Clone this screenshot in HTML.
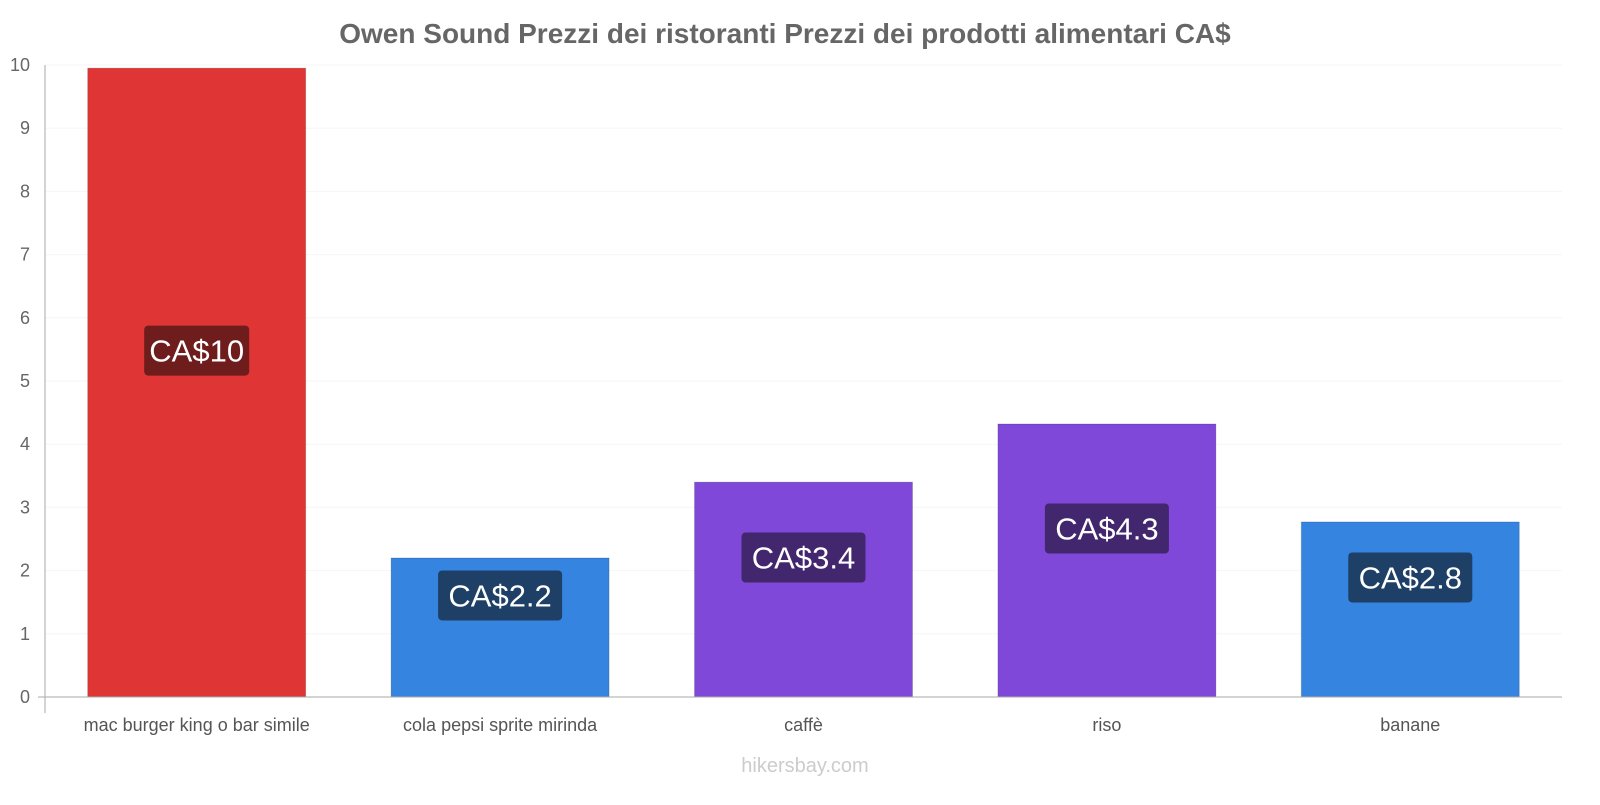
<!DOCTYPE html>
<html><head><meta charset="utf-8"><style>
body{margin:0;background:#fff;font-family:"Liberation Sans",sans-serif}
svg text{font-family:"Liberation Sans",sans-serif}
</style></head><body>
<svg id="chart" width="1600" height="800">
<text x="785" y="43" text-anchor="middle" font-size="28" font-weight="bold" fill="#666">Owen Sound Prezzi dei ristoranti Prezzi dei prodotti alimentari CA$</text>
<g id="grid"></g><g id="bars"></g>
<line x1="45" y1="65" x2="45" y2="713" stroke="#aaa"/>
<line x1="38" y1="697" x2="1562" y2="697" stroke="#aaa"/>
<text x="805" y="772" text-anchor="middle" font-size="20" fill="#ccc">hikersbay.com</text>
</svg>
<script>
const categories=["mac burger king o bar simile","cola pepsi sprite mirinda","caffè","riso","banane"];
const values=[9.95,2.2,3.4,4.32,2.77];
const labels=["CA$10","CA$2.2","CA$3.4","CA$4.3","CA$2.8"];
const colors=["#e03535","#3584e0","#8048d8","#8048d8","#3584e0"];
const labelBg=["#6e1c1c","#1e3f66","#42266e","#42266e","#1e3f66"];
const yTicks=[0,1,2,3,4,5,6,7,8,9,10];
const NS="http://www.w3.org/2000/svg";
const x0=45,x1=1562,yZero=697,yTop=65,yMax=10;
const y=v=>yZero-(yZero-yTop)*v/yMax;
const band=(x1-x0)/categories.length;
const bx=i=>x0+band*i+band/2;
function mk(t,a,p){const e=document.createElementNS(NS,t);for(const k in a)e.setAttribute(k,a[k]);p.appendChild(e);return e;}
const grid=document.getElementById('grid'),bars=document.getElementById('bars');
yTicks.forEach(t=>{
 const l=mk('line',{x1:x0,x2:x1,y1:y(t),y2:y(t),stroke:'#f6f6f6'},grid);
 
 
 const tx=mk('text',{x:30,y:y(t)+6,'text-anchor':'end','font-size':18,fill:'#666'},grid);
 tx.textContent=t;
 
 
});
categories.forEach((c,i)=>{
 const w=218,cx=bx(i);
 const r=mk('rect',{x:cx-w/2,y:y(values[i]),width:w,height:yZero-y(values[i]),fill:colors[i],stroke:'rgba(0,0,0,0.15)'},bars);
 
 
 const cy=(y(values[i])+yZero)/2-32;
 const tw=labels[i].length*19+10;
 const b=mk('rect',{x:cx-tw/2,y:cy-25,width:tw,height:50,rx:4,fill:labelBg[i]},bars);
 
 
 const t=mk('text',{x:cx,y:cy+11,'text-anchor':'middle','font-size':31,fill:'#fff'},bars);
 t.textContent=labels[i];
 
 
 const xl=mk('text',{x:cx,y:731,'text-anchor':'middle','font-size':18,fill:'#555'},bars);
 xl.textContent=c;
 
 
});
</script>
</body></html>
